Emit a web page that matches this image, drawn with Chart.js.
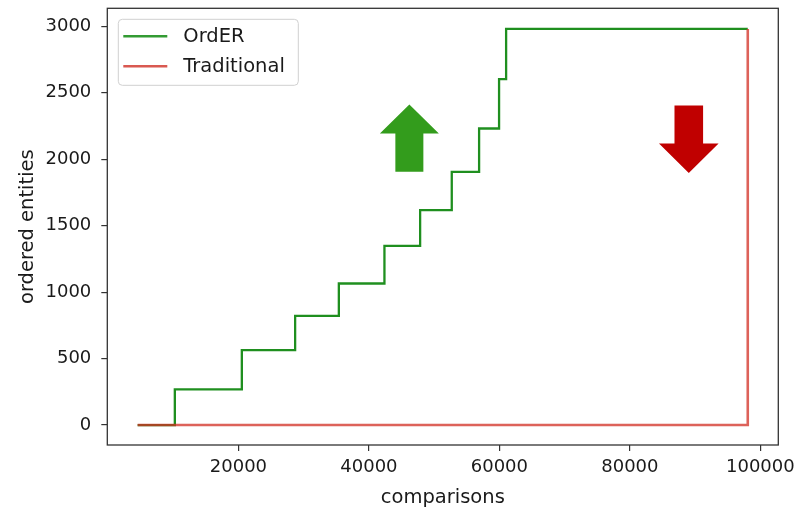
<!DOCTYPE html>
<html>
<head>
<meta charset="utf-8">
<script src="https://cdn.jsdelivr.net/npm/chart.js@4.4.1/dist/chart.umd.min.js"></script>
<style>
  html, body { margin: 0; padding: 0; background: #fff; }
  #wrap { width: 800px; height: 508px; }
</style>
</head>
<body>
<div id="wrap"><canvas id="c" width="800" height="508"></canvas></div>
<script>
// ---- data ----
const ordX = [4550, 10250, 20520, 28690, 35390, 42380, 47850, 52700, 56890, 59950, 61030, 98070];
const ordY = [0, 268, 564, 822, 1065, 1348, 1617, 1905, 2231, 2602, 2980, 2980];
const tradX = [4550, 98070, 98070];
const tradY = [0, 0, 2980];
const xTicks = [20000, 40000, 60000, 80000, 100000];
const yTicks = [0, 500, 1000, 1500, 2000, 2500, 3000];
const seriesNames = ['OrdER', 'Traditional'];

// arrow annotations (data coordinates)
const upArrow = { x: 46200, base: 1905, neck: 2193, tip: 2411, shaftHalf: 2146, headHalf: 4521 };
const downArrow = { x: 89030, base: 2404, neck: 2118, tip: 1897, shaftHalf: 2192, headHalf: 4567 };

const FONT = 'DejaVu Sans';
const FS = 18;
const FS_LABEL = 19.5;
const TXT = '#1a1a1a';

function toPts(xs, ys) { return xs.map((x, i) => ({ x: x, y: ys[i] })); }

const extras = {
  id: 'extras',
  beforeDatasetsDraw(chart) {
    const ctx = chart.ctx, xs = chart.scales.x, ys = chart.scales.y;
    function arrow(a, color) {
      const X = v => xs.getPixelForValue(v), Y = v => ys.getPixelForValue(v);
      ctx.save();
      ctx.fillStyle = color;
      ctx.beginPath();
      ctx.moveTo(X(a.x - a.shaftHalf), Y(a.base));
      ctx.lineTo(X(a.x + a.shaftHalf), Y(a.base));
      ctx.lineTo(X(a.x + a.shaftHalf), Y(a.neck));
      ctx.lineTo(X(a.x + a.headHalf), Y(a.neck));
      ctx.lineTo(X(a.x), Y(a.tip));
      ctx.lineTo(X(a.x - a.headHalf), Y(a.neck));
      ctx.lineTo(X(a.x - a.shaftHalf), Y(a.neck));
      ctx.closePath();
      ctx.fill();
      ctx.restore();
    }
    arrow(upArrow, '#339c1c');
    arrow(downArrow, '#c00000');
  },
  afterDraw(chart) {
    const ctx = chart.ctx, a = chart.chartArea;
    ctx.save();
    // spines
    ctx.strokeStyle = '#333';
    ctx.lineWidth = 1.3;
    ctx.strokeRect(a.left, a.top, a.right - a.left, a.bottom - a.top);
    // legend
    const lx = a.left + 11, ly = a.top + 11, lw = 180, lh = 66, r = 4;
    ctx.beginPath();
    ctx.moveTo(lx + r, ly);
    ctx.lineTo(lx + lw - r, ly);
    ctx.quadraticCurveTo(lx + lw, ly, lx + lw, ly + r);
    ctx.lineTo(lx + lw, ly + lh - r);
    ctx.quadraticCurveTo(lx + lw, ly + lh, lx + lw - r, ly + lh);
    ctx.lineTo(lx + r, ly + lh);
    ctx.quadraticCurveTo(lx, ly + lh, lx, ly + lh - r);
    ctx.lineTo(lx, ly + r);
    ctx.quadraticCurveTo(lx, ly, lx + r, ly);
    ctx.closePath();
    ctx.fillStyle = 'rgba(255,255,255,0.8)';
    ctx.fill();
    ctx.strokeStyle = '#d0d0d0';
    ctx.lineWidth = 1;
    ctx.stroke();
    chart.data.datasets.forEach((ds, i) => {
      const yy = ly + 17 + i * 30;
      ctx.strokeStyle = ds.legendColor;
      ctx.lineWidth = 2.5;
      ctx.beginPath();
      ctx.moveTo(lx + 5, yy);
      ctx.lineTo(lx + 49, yy);
      ctx.stroke();
      ctx.fillStyle = TXT;
      ctx.font = FS_LABEL + 'px "' + FONT + '"';
      ctx.textBaseline = 'middle';
      ctx.textAlign = 'left';
      ctx.fillText(ds.label, lx + 65, yy + 1);
    });
    ctx.restore();
  }
};

new Chart(document.getElementById('c'), {
  type: 'line',
  data: {
    datasets: [
      {
        label: seriesNames[0],
        data: toPts(ordX, ordY),
        stepped: true,
        borderColor: 'rgba(0,128,0,0.88)',
        legendColor: 'rgba(40,150,40,0.95)',
        borderWidth: 2.3,
        pointRadius: 0,
        fill: false,
        order: 2
      },
      {
        label: seriesNames[1],
        data: toPts(tradX, tradY),
        borderColor: 'rgba(210,45,35,0.75)',
        legendColor: 'rgba(210,60,50,0.85)',
        borderWidth: 2.6,
        pointRadius: 0,
        fill: false,
        order: 1
      }
    ]
  },
  options: {
    responsive: false,
    animation: false,
    devicePixelRatio: 1,
    layout: { padding: { top: 8.3, right: 21.7, bottom: 0, left: 0 } },
    plugins: { legend: { display: false }, tooltip: { enabled: false } },
    scales: {
      x: {
        type: 'linear',
        min: -100,
        max: 102750,
        afterBuildTicks: s => { s.ticks = xTicks.map(v => ({ value: v })); },
        afterFit: s => { s.height = 63; s.paddingLeft = 0; s.paddingRight = 0; },
        grid: { drawOnChartArea: false, drawTicks: true, tickLength: 6, color: '#333', lineWidth: 1.2 },
        border: { display: false },
        ticks: {
          callback: v => String(v),
          font: { family: FONT, size: FS },
          color: TXT,
          padding: 6,
          maxRotation: 0,
          autoSkip: false
        },
        title: {
          display: true,
          text: 'comparisons',
          font: { family: FONT, size: FS_LABEL, lineHeight: 1 },
          color: TXT,
          padding: { top: 0, bottom: 0 }
        }
      },
      y: {
        type: 'linear',
        min: -150,
        max: 3135,
        afterBuildTicks: s => { s.ticks = yTicks.map(v => ({ value: v })); },
        afterFit: s => { s.width = 107.3; s.paddingTop = 0; s.paddingBottom = 0; },
        grid: { drawOnChartArea: false, drawTicks: true, tickLength: 6, color: '#333', lineWidth: 1.2 },
        border: { display: false },
        ticks: {
          callback: v => String(v),
          font: { family: FONT, size: FS },
          color: TXT,
          padding: 10,
          autoSkip: false
        },
        title: {
          display: true,
          text: 'ordered entities',
          font: { family: FONT, size: FS_LABEL, lineHeight: 1 },
          color: TXT,
          padding: { top: 18, bottom: 0 }
        }
      }
    }
  },
  plugins: [extras]
});
</script>
</body>
</html>
